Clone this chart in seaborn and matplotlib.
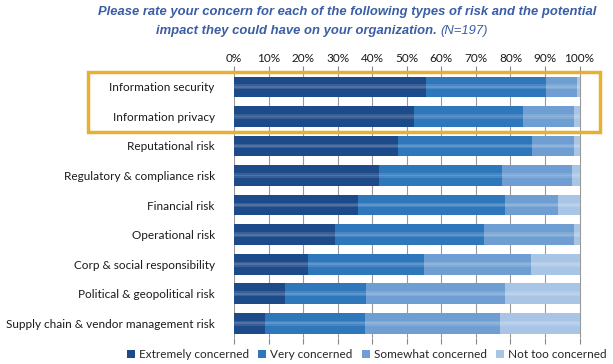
"""Stacked bar chart: concern about types of risk (N=197)."""
import matplotlib.pyplot as plt
import pandas as pd
import seaborn as sns
from matplotlib.patches import Patch, Rectangle

categories = [
    "Information security",
    "Information privacy",
    "Reputational risk",
    "Regulatory & compliance risk",
    "Financial risk",
    "Operational risk",
    "Corp & social responsibility",
    "Political & geopolitical risk",
    "Supply chain & vendor management risk",
]
series_names = ["Extremely concerned", "Very concerned", "Somewhat concerned", "Not too concerned"]
extremely = [55.6, 52.2, 47.4, 41.8, 36.0, 29.1, 21.3, 14.8, 8.9]
very = [34.7, 31.4, 38.7, 35.8, 42.3, 43.3, 33.7, 23.5, 29.1]
somewhat = [8.9, 14.8, 12.3, 20.2, 15.4, 26.0, 30.9, 40.0, 39.0]
not_too = [0.8, 1.6, 1.6, 2.2, 6.3, 1.6, 14.1, 21.7, 23.0]
tick_values = [0, 10, 20, 30, 40, 50, 60, 70, 80, 90, 100]

colors = ["#1d4a88", "#2f77bb", "#6f9fd2", "#a9c5e6"]

df = pd.DataFrame(
    {"Risk": categories, "Extremely concerned": extremely, "Very concerned": very,
     "Somewhat concerned": somewhat, "Not too concerned": not_too}
)
# cumulative totals, drawn from the widest down so each layer shows
cum = df[series_names].cumsum(axis=1)

sns.set_theme(style="white")
plt.rcParams["font.family"] = ["Lato", "DejaVu Sans"]

fig = plt.figure(figsize=(6.13, 3.64), dpi=100)
ax = fig.add_axes([0.382, 0.071, 0.569, 0.731])

for name, color in reversed(list(zip(series_names, colors))):
    sns.barplot(x=cum[name], y=df["Risk"], color=color, width=0.7, ax=ax,
                orient="h", saturation=1, linewidth=0, zorder=3)

# soft gloss band across each bar
ax.barh(range(len(categories)), cum[series_names[-1]], height=0.16, left=0,
        color="white", alpha=0.12, zorder=4, align="center", linewidth=0)
ax.barh(range(len(categories)), cum[series_names[-1]], height=0.06, left=0,
        color="white", alpha=0.12, zorder=4, align="center", linewidth=0)

ax.set_xlim(0, 101)
ax.set_ylim(len(categories) - 0.5, -0.5)
ax.set_xticks(tick_values)
ax.set_xticklabels([f"{v}%" for v in tick_values], fontsize=8.5, color="#1a1a1a")
ax.tick_params(axis="x", top=True, bottom=True, labeltop=True, labelbottom=False,
               direction="out", length=4, color="#888888", width=0.8, pad=2)
ax.tick_params(axis="y", left=False, labelsize=8.5, labelcolor="#1a1a1a", pad=8)
ax.grid(axis="x", color="#999999", linewidth=0.8, zorder=0)
ax.set_axisbelow(True)
ax.set_xlabel("")
ax.set_ylabel("")
for spine in ax.spines.values():
    spine.set_visible(False)

# highlight box around the two information risks
fig.patches.append(Rectangle((88 / 613, 1 - 132 / 364), 512 / 613, 60 / 364,
                             transform=fig.transFigure, fill=False,
                             edgecolor="#e6b034", linewidth=2.5, zorder=10))

title_color = "#3a5da6"
fig.text(0.566, 0.966, "Please rate your concern for each of the following types of risk and the potential",
         ha="center", va="center", fontsize=9.4, fontweight="bold", fontstyle="italic",
         color=title_color, family="Liberation Sans")
fig.text(0.713, 0.916, "impact they could have on your organization.",
         ha="right", va="center", fontsize=9.4, fontweight="bold", fontstyle="italic",
         color=title_color, family="Liberation Sans")
fig.text(0.719, 0.916, "(N=197)", ha="left", va="center", fontsize=9.4,
         fontstyle="italic", color=title_color, family="Liberation Sans")

handles = [Patch(facecolor=c, edgecolor="none") for c in colors]
fig.legend(handles, series_names, loc="center", bbox_to_anchor=(0.598, 0.025), ncol=4,
           frameon=False, fontsize=8.5, handlelength=0.7, handleheight=0.7,
           handletextpad=0.3, columnspacing=0.8, borderaxespad=0)

fig.savefig("out.png", dpi=100)
